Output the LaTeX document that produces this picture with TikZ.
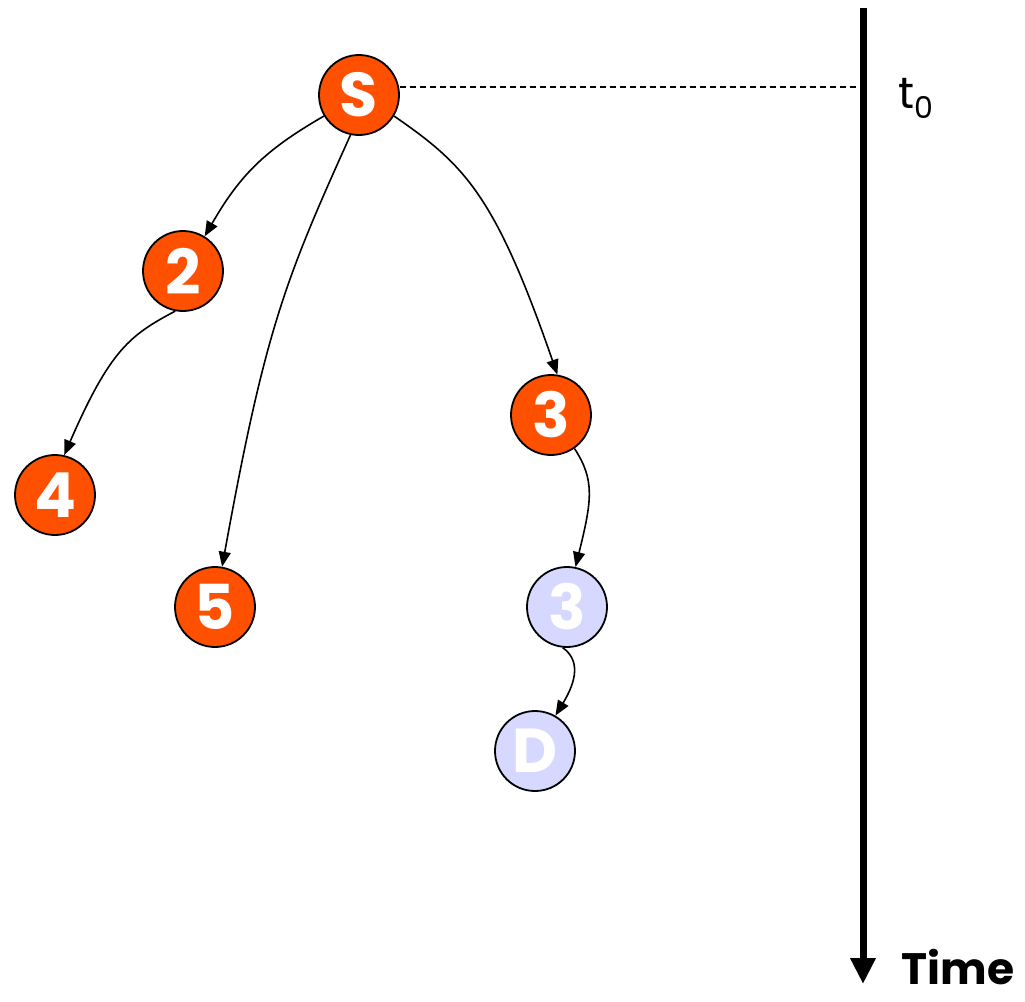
\documentclass[tikz,border=0pt]{standalone}
\usepackage{fontspec}
\setmainfont{Poppins}
\usetikzlibrary{arrows.meta}
\definecolor{nodeor}{RGB}{255,80,0}
\definecolor{nodelb}{RGB}{214,216,255}
\begin{document}
\begin{tikzpicture}[x=1pt,y=-1pt,
  nd/.style={circle,draw=black,line width=1.8pt,minimum size=80pt,inner sep=0pt,
    text=white,font=\fontsize{62}{62}\selectfont\bfseries},
  orn/.style={nd,fill=nodeor},
  lbn/.style={nd,fill=nodelb},
  conn/.style={line width=1.6pt,-{Triangle[length=15pt,width=12pt]}},
  lbl/.style={inner sep=0pt,anchor=base}]
\useasboundingbox (0,0) rectangle (1025,1001);
\node[orn] (S) at (359,95) {S};
\node[orn] (n2) at (183,271) {2};
\node[orn] (n3) at (551,415) {3};
\node[orn] (n4) at (55,495) {4};
\node[orn] (n5) at (215,607) {5};
\node[lbn] (n3b) at (567,607) {3};
\node[lbn] (D) at (535,751) {D};
\coordinate (axtop) at (863,8);
\coordinate (axbot) at (863,984);
\coordinate (dashend) at (856,87);
\draw[line width=7pt,-{Triangle[length=26pt,width=24pt]}] (axtop) -- (axbot);
\draw[line width=1.4pt,dash pattern=on 6pt off 4pt] (S.east |- dashend) -- (dashend);
\draw[conn] (S.211) .. controls (265,150) and (240,175) .. (n2.58);
\draw[conn] (S.258) .. controls (285,280) and (265,330) .. (n5.80);
\draw[conn] (S.329) .. controls (465,165) and (495,195) .. (n3.81);
\draw[conn] (n2.259) .. controls (130,335) and (110,350) .. (n4.77);
\draw[conn] (n3.305) .. controls (595,480) and (592,500) .. (n3b.78);
\draw[conn] (n3b.264) .. controls (580,660) and (577,680) .. (D.60);
\node[lbl,anchor=base west,font=\fontsize{44}{44}\selectfont] (t0) at (898,108) {t\raisebox{-10pt}{\fontsize{30}{30}\selectfont 0}};
\node[lbl,font=\fontsize{44}{44}\selectfont\bfseries] (time) at (958,984) {Time};
\end{tikzpicture}
\end{document}
